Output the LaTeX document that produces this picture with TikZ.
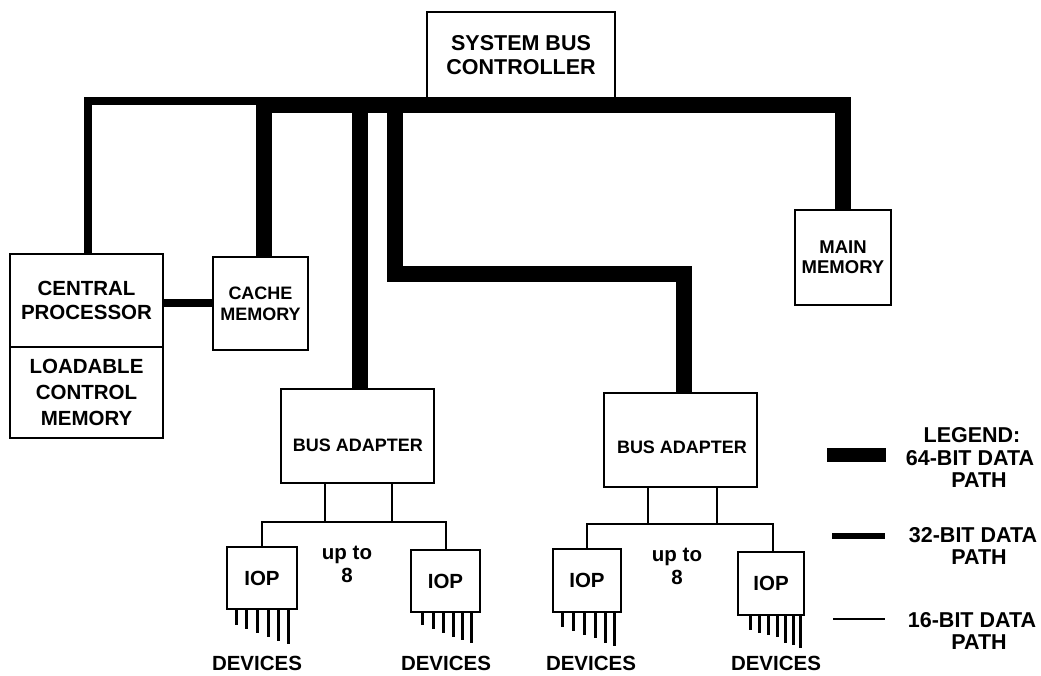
\documentclass[tikz,border=0pt]{standalone}
\usepackage{fontspec}
\setmainfont{Liberation Sans}
\begin{document}
\begin{tikzpicture}[x=1pt,y=-1pt,
  box/.style={draw, line width=2pt, inner sep=0pt, outer sep=0pt, align=center, font=\bfseries},
  lbl/.style={inner sep=0pt, align=center, font=\bfseries},
  fA/.style={font=\fontsize{20.5}{24}\selectfont\bfseries},
  fL/.style={font=\fontsize{21.5}{24}\selectfont\bfseries},
  fB/.style={font=\fontsize{18}{21}\selectfont\bfseries},
  b64/.style={line width=16pt, line join=miter},
  b32/.style={line width=8pt, line join=miter},
  b16/.style={line width=2pt},
  pin/.style={line width=3pt}
]
\useasboundingbox (0,0) rectangle (1041,675);

% boxes
\node[box, font=\fontsize{21.5}{24}\selectfont\bfseries, minimum width=188, minimum height=86] (sbc) at (521,55) {SYSTEM BUS\\CONTROLLER};
\node[box, fA, minimum width=153, minimum height=93] (cpu) at (86.5,300.5) {CENTRAL\\PROCESSOR};
\node[box, font=\fontsize{20.5}{26}\selectfont\bfseries, minimum width=153, minimum height=91] (lcm) at (86.5,392.5) {LOADABLE\\CONTROL\\MEMORY};
\node[box, fB, minimum width=95, minimum height=93] (cache) at (260.5,303.5) {CACHE\\MEMORY};
\node[box, font=\fontsize{18.5}{20}\selectfont\bfseries, minimum width=96, minimum height=95] (mm) at (843,257.5) {MAIN\\MEMORY};
\node[box, minimum width=153, minimum height=94] (ba1) at (357.5,436) {};
\node[box, minimum width=153, minimum height=94] (ba2) at (680.5,440) {};
\node[lbl, fB] (ba1t) at (358,445) {BUS ADAPTER};
\node[lbl, fB] (ba2t) at (682,447) {BUS ADAPTER};
\node[box, fA, minimum width=70, minimum height=62] (iop1) at (262,578) {IOP};
\node[box, fA, minimum width=69, minimum height=62] (iop2) at (445.5,581) {IOP};
\node[box, fA, minimum width=68, minimum height=63] (iop3) at (587,580.5) {IOP};
\node[box, fA, minimum width=66, minimum height=63] (iop4) at (771,583.5) {IOP};

% texts
\node[lbl, font=\fontsize{20.5}{23}\selectfont\bfseries] (up1) at (347,564) {up to\\8};
\node[lbl, font=\fontsize{20.5}{23}\selectfont\bfseries] (up2) at (677,566) {up to\\8};
\node[lbl, fA] (dev1) at (257,663) {DEVICES};
\node[lbl, fA] (dev2) at (446,663) {DEVICES};
\node[lbl, fA] (dev3) at (591,663) {DEVICES};
\node[lbl, fA] (dev4) at (776,663) {DEVICES};

% bus coordinates
\coordinate (cv) at (264,105);
\coordinate (mv) at (843,105);
\coordinate (j1) at (360,105);
\coordinate (j2) at (395,105);
\coordinate (k2) at (395,274);
\coordinate (cp) at (88,101);
\coordinate (ce) at (264,101);
\coordinate (r1) at (0,522);
\coordinate (r2) at (0,524);

% 64-bit paths
\draw[b64] (cv |- cache.north) -- (cv) -- (mv) -- (mv |- mm.north);
\draw[b64] (j1) -- (j1 |- ba1.north);
\draw[b64] (j2) -- (k2) -| ([xshift=3.5pt]ba2.north);

% 32-bit paths
\draw[b32] (cp |- cpu.north) -- (cp) -- (ce);
\draw[b32] ([yshift=-2pt]cpu.east) -- ([yshift=-2pt]cpu.east -| cache.west);

% 16-bit paths
\draw[b16] ([xshift=-32.5pt]ba1.south) -- ([xshift=-32.5pt]ba1.south |- r1);
\draw[b16] ([xshift=34.5pt]ba1.south) -- ([xshift=34.5pt]ba1.south |- r1);
\draw[b16] (iop1.north) |- (iop2.north |- r1) -- (iop2.north);
\draw[b16] ([xshift=-32.5pt]ba2.south) -- ([xshift=-32.5pt]ba2.south |- r2);
\draw[b16] ([xshift=36.5pt]ba2.south) -- ([xshift=36.5pt]ba2.south |- r2);
\draw[b16] (iop3.north) |- ([xshift=2pt]iop4.north |- r2) -- ([xshift=2pt]iop4.north);

% device pins
\foreach \dx/\len in {-26/16,-16/20,-5/24,6/28,16/32,26/35}
  \draw[pin] ([xshift=\dx pt]iop1.south) -- ++(0,\len);
\foreach \dx/\len in {-23.5/13,-12.5/17,-2.5/21,7.5/25,16.5/28,25.5/31}
  \draw[pin] ([xshift=\dx pt]iop2.south) -- ++(0,\len);
\foreach \dx/\len in {-25/15,-14/19,-3/23,8/26,18/31,27/34}
  \draw[pin] ([xshift=\dx pt]iop3.south) -- ++(0,\len);
\foreach \dx/\len in {-21/15,-12/18,-3/20,6/22,14/28,22/30,29/33}
  \draw[pin] ([xshift=\dx pt]iop4.south) -- ++(0,\len);

% legend
\node[lbl, fL] (lg) at (972,435) {LEGEND:};
\node[lbl, fL] (lg64) at (970,458) {64-BIT DATA};
\node[lbl, fL] (lg64p) at (979,480) {PATH};
\node[lbl, fL] (lg32) at (973,535) {32-BIT DATA};
\node[lbl, fL] (lg32p) at (979,557) {PATH};
\node[lbl, fL] (lg16) at (972,620) {16-BIT DATA};
\node[lbl, fL] (lg16p) at (979,642) {PATH};
\coordinate (l64a) at (827,455);
\coordinate (l64b) at (886,455);
\coordinate (l32a) at (832,536);
\coordinate (l32b) at (885,536);
\coordinate (l16a) at (833,619);
\coordinate (l16b) at (885,619);
\draw[line width=14pt] (l64a) -- (l64b);
\draw[line width=6pt] (l32a) -- (l32b);
\draw[b16] (l16a) -- (l16b);
\end{tikzpicture}
\end{document}
